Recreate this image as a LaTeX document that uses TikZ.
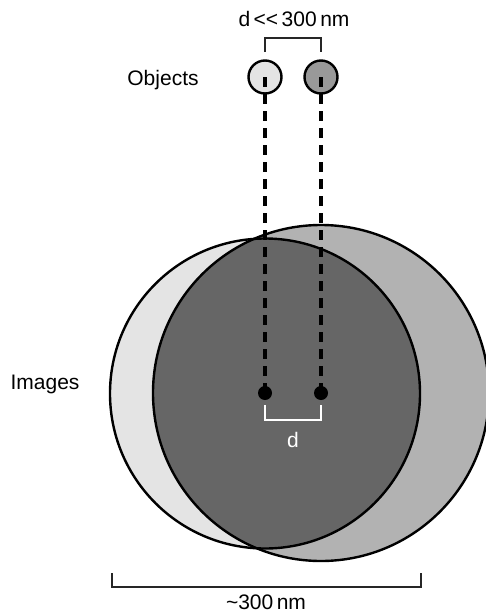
\documentclass[tikz,border=0pt]{standalone}
\usepackage{fontspec}
\setmainfont{Liberation Sans}
\definecolor{lightfill}{HTML}{E4E4E4}
\definecolor{midfill}{HTML}{B2B2B2}
\definecolor{darkfill}{HTML}{666666}
\definecolor{objdark}{HTML}{999999}
\begin{document}
\begin{tikzpicture}[x=1pt,y=-1pt,
  outline/.style={draw=black,line width=2.4pt},
  ray/.style={line width=4pt,dash pattern=on 10pt off 7pt},
  bracket/.style={draw=black!85,line width=1.3pt},
  lbl/.style={font=\fontsize{21}{25}\selectfont,inner sep=0pt}]
\useasboundingbox (0,0) rectangle (485,613);

% image discs
\coordinate (cl) at (265,393.5);
\coordinate (cr) at (321,393);
\fill[midfill] (cr) circle (168);
\fill[lightfill] (cl) circle (155);
\begin{scope}
  \clip (cr) circle (168);
  \fill[darkfill] (cl) circle (155);
\end{scope}
\draw[outline] (cr) circle (168);
\draw[outline] (cl) circle (155);

% objects
\node[circle,outline,fill=lightfill,minimum size=33pt,inner sep=0pt] (o1) at (265,77) {};
\node[circle,outline,fill=objdark,minimum size=33pt,inner sep=0pt] (o2) at (321,77) {};

% image centres
\node[circle,fill=black,minimum size=14pt,inner sep=0pt] (i1) at (265,393) {};
\node[circle,fill=black,minimum size=14pt,inner sep=0pt] (i2) at (321,393) {};

% rays from objects to images
\draw[ray] (o1.center) -- (i1.center);
\draw[ray] (o2.center) -- (i2.center);

% separation brackets
\draw[bracket] (265,52) -- (265,38) -- (321,38) -- (321,52);
\node[lbl] (top) at (294,19) {d\,{<}{<}\,300\,nm};
\draw[white,line width=2pt] (265,405) -- (265,420) -- (321,420) -- (321,405);
\node[lbl,text=white] (dl) at (293,440) {d};
\draw[bracket] (112,573) -- (112,587) -- (421,587) -- (421,573);
\node[lbl] (bot) at (266,602) {\textasciitilde 300\,nm};

% row labels
\node[lbl] (objs) at (163,80) {Objects};
\node[lbl] (imgs) at (45,384) {Images};
\end{tikzpicture}
\end{document}
